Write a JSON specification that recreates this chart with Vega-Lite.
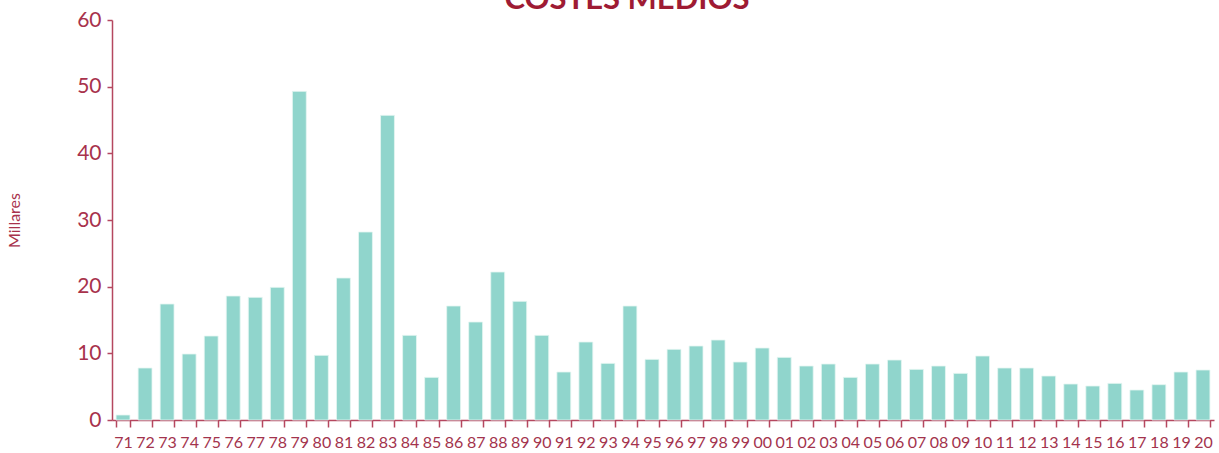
{
  "$schema": "https://vega.github.io/schema/vega-lite/v6.json",
  "autosize": "none",
  "width": 1102,
  "height": 400,
  "padding": {"left": 112, "top": 20, "right": 5, "bottom": 33},
  "background": "white",
  "title": {"text": "COSTES MEDIOS", "font": "Lato", "fontSize": 31, "fontWeight": "bold", "color": "#9e1b34", "anchor": "middle", "baseline": "alphabetic", "offset": 0, "dx": -36, "dy": 31},
  "data": {"values": [
    {"year": "71", "value": 0.75}, {"year": "72", "value": 7.8}, {"year": "73", "value": 17.4}, {"year": "74", "value": 9.9},
    {"year": "75", "value": 12.6}, {"year": "76", "value": 18.6}, {"year": "77", "value": 18.4}, {"year": "78", "value": 19.9},
    {"year": "79", "value": 49.3}, {"year": "80", "value": 9.7}, {"year": "81", "value": 21.3}, {"year": "82", "value": 28.2},
    {"year": "83", "value": 45.7}, {"year": "84", "value": 12.7}, {"year": "85", "value": 6.4}, {"year": "86", "value": 17.1},
    {"year": "87", "value": 14.7}, {"year": "88", "value": 22.2}, {"year": "89", "value": 17.8}, {"year": "90", "value": 12.7},
    {"year": "91", "value": 7.2}, {"year": "92", "value": 11.7}, {"year": "93", "value": 8.5}, {"year": "94", "value": 17.1},
    {"year": "95", "value": 9.1}, {"year": "96", "value": 10.6}, {"year": "97", "value": 11.1}, {"year": "98", "value": 12.0},
    {"year": "99", "value": 8.7}, {"year": "00", "value": 10.8}, {"year": "01", "value": 9.4}, {"year": "02", "value": 8.1},
    {"year": "03", "value": 8.4}, {"year": "04", "value": 6.4}, {"year": "05", "value": 8.4}, {"year": "06", "value": 9.0},
    {"year": "07", "value": 7.6}, {"year": "08", "value": 8.1}, {"year": "09", "value": 7.0}, {"year": "10", "value": 9.6},
    {"year": "11", "value": 7.8}, {"year": "12", "value": 7.8}, {"year": "13", "value": 6.6}, {"year": "14", "value": 5.4},
    {"year": "15", "value": 5.1}, {"year": "16", "value": 5.5}, {"year": "17", "value": 4.5}, {"year": "18", "value": 5.3},
    {"year": "19", "value": 7.2}, {"year": "20", "value": 7.5}
  ]},
  "mark": {"type": "bar", "color": "#90d5cc", "stroke": "#e6f6f3", "strokeWidth": 0.8},
  "encoding": {
    "x": {
      "field": "year", "type": "nominal", "sort": null,
      "scale": {"paddingInner": 0.37, "paddingOuter": 0.185},
      "axis": {
        "title": null, "labelAngle": 0, "labelFont": "Lato", "labelFontSize": 16, "labelColor": "#a3334d",
        "domainColor": "#b5475f", "domainWidth": 1.5, "tickColor": "#b5475f", "tickWidth": 1.5, "tickSize": 7,
        "tickBand": "extent", "labelPadding": 7, "grid": false
      }
    },
    "y": {
      "field": "value", "type": "quantitative",
      "scale": {"domain": [0, 60], "nice": false},
      "axis": {
        "title": "Millares", "titleFont": "Lato", "titleFontSize": 16, "titleFontWeight": "normal", "titleColor": "#a8324c",
        "titlePadding": 54, "values": [0, 10, 20, 30, 40, 50, 60],
        "labelFont": "Lato", "labelFontSize": 21, "labelColor": "#a8324c", "labelPadding": 6,
        "domainColor": "#b5475f", "domainWidth": 1.5, "tickColor": "#b5475f", "tickWidth": 1.5, "tickSize": 5, "grid": false
      }
    }
  },
  "config": {"view": {"stroke": null}}
}
